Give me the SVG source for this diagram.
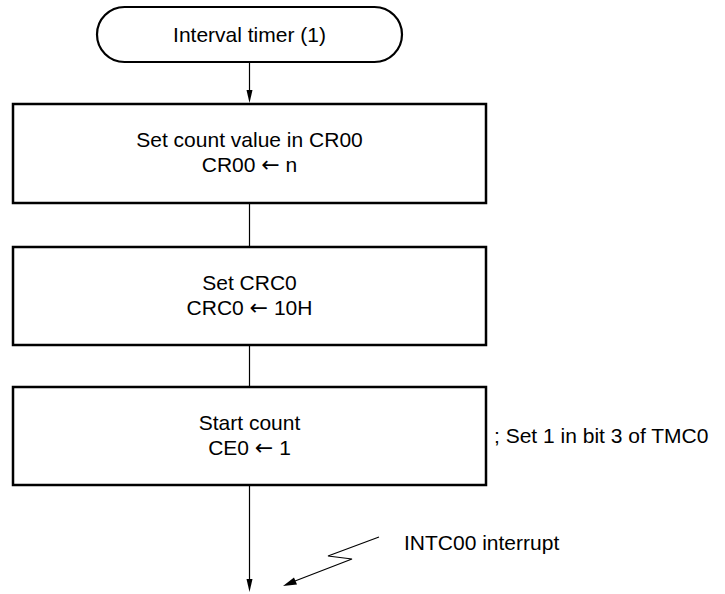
<svg xmlns="http://www.w3.org/2000/svg" width="725" height="594" viewBox="0 0 725 594">
<style>
text{font-family:"Liberation Sans",Arial,sans-serif;font-size:21px;fill:#000}
.c{text-anchor:middle}
.ar{font-family:"DejaVu Sans",sans-serif;font-size:22px}
.box{fill:#fff;stroke:#000;stroke-width:2.5}
.term{fill:#fff;stroke:#000;stroke-width:2.2}
.ln{stroke:#000;stroke-width:1.2;fill:none}
</style>
<g id="connectors">
<line class="ln" x1="249.5" y1="62" x2="249.5" y2="90"/>
<path d="M246.5,90 L252.5,90 L249.5,103 Z" fill="#000"/>
<line class="ln" x1="249.5" y1="203" x2="249.5" y2="247"/>
<line class="ln" x1="249.5" y1="345" x2="249.5" y2="387"/>
<line class="ln" x1="249.5" y1="485" x2="249.5" y2="579"/>
<path d="M246.5,579 L252.5,579 L249.5,592 Z" fill="#000"/>
<polyline class="ln" points="379,537 328,556 352,559 295,581"/>
<path d="M283,586 L294,577.5 L297,584.5 Z" fill="#000"/>
</g>
<g id="start">
<rect class="term" x="97" y="7" width="305" height="55" rx="27.5" ry="27.5"/>
<text class="c" x="249.5" y="42">Interval timer (1)</text>
</g>
<g id="set-cr00">
<rect class="box" x="13" y="104" width="473" height="99"/>
<text class="c" x="249.5" y="147">Set count value in CR00</text>
<text class="c" x="249.5" y="172">CR00 <tspan class="ar">←</tspan> n</text>
</g>
<g id="set-crc0">
<rect class="box" x="13" y="247" width="473" height="98"/>
<text class="c" x="249.5" y="290">Set CRC0</text>
<text class="c" x="249.5" y="315">CRC0 <tspan class="ar">←</tspan> 10H</text>
</g>
<g id="start-count">
<rect class="box" x="13" y="387" width="473" height="98"/>
<text class="c" x="249.5" y="430">Start count</text>
<text class="c" x="249.5" y="455">CE0 <tspan class="ar">←</tspan> 1</text>
</g>
<g id="notes">
<text x="494" y="443">; Set 1 in bit 3 of TMC0</text>
<text x="404" y="550">INTC00 interrupt</text>
</g>
</svg>
